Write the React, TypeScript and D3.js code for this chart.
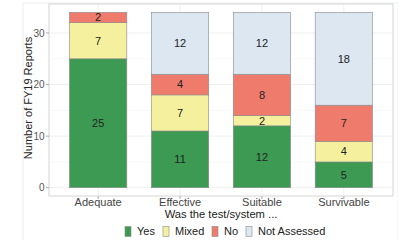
import React from 'react';
import * as d3 from 'd3';

const categories = ['Adequate', 'Effective', 'Suitable', 'Survivable'];
const seriesNames = ['Yes', 'Mixed', 'No', 'Not Assessed'];
const yesValues = [25, 11, 12, 5];
const mixedValues = [7, 7, 2, 4];
const noValues = [2, 4, 8, 7];
const notAssessedValues = [0, 12, 12, 18];
const yTicks = [0, 10, 20, 30];
const colors = ['#3c9a52', '#f4f09e', '#ef7b6c', '#dce7f2'];

const W = 398;
const H = 240;
const panel = { left: 49, right: 393, top: 4, bottom: 196 };

function App() {
  const rows = categories.map((c, i) => ({
    cat: c,
    Yes: yesValues[i],
    Mixed: mixedValues[i],
    No: noValues[i],
    'Not Assessed': notAssessedValues[i],
  }));
  const stack = d3.stack<any>().keys(seriesNames)(rows);

  const x = d3.scalePoint().domain(categories).range([panel.left, panel.right]).padding(0.6);
  const barW = x.step() * 0.7;
  const y = d3.scaleLinear().domain([0, 30]).range([187.7, 33]);

  const font = 'Liberation Sans, Arial, sans-serif';
  const minor = [5, 15, 25];

  // legend key positions
  const legendItems = [
    { name: 'Yes', x: 125 },
    { name: 'Mixed', x: 163 },
    { name: 'No', x: 212 },
    { name: 'Not Assessed', x: 246 },
  ];

  return (
    <svg width={W} height={H} style={{ position: 'absolute', left: 0, top: 0 }} fontFamily={font}>
      <rect x={0} y={0} width={W} height={H} fill="#fff" />
      <rect x={23} y={3} width={W - 23} height={H} fill="none" stroke="#eceef0" />
      <rect x={panel.left} y={panel.top} width={panel.right - panel.left} height={panel.bottom - panel.top}
        fill="#fff" stroke="#d4d4d4" />
      {minor.map(t => (
        <line key={'m' + t} x1={panel.left} x2={panel.right} y1={y(t)} y2={y(t)} stroke="#f3f3f3" strokeWidth={0.6} />
      ))}
      {yTicks.map(t => (
        <line key={'g' + t} x1={panel.left} x2={panel.right} y1={y(t)} y2={y(t)} stroke="#ebebeb" strokeWidth={0.8} />
      ))}
      {categories.map(c => (
        <line key={'v' + c} x1={x(c)} x2={x(c)} y1={panel.top} y2={panel.bottom} stroke="#ebebeb" strokeWidth={0.8} />
      ))}
      {stack.map((s, si) => (
        <g key={s.key}>
          {s.map((d, i) => {
            const v = d[1] - d[0];
            if (v <= 0) return null;
            const cx = x(categories[i])!;
            return (
              <g key={i}>
                <rect x={cx - barW / 2} y={y(d[1])} width={barW} height={y(d[0]) - y(d[1])}
                  fill={colors[si]} stroke="#8a8a8a" strokeWidth={0.6} />
                <text x={cx} y={(y(d[0]) + y(d[1])) / 2} dy="0.35em" textAnchor="middle"
                  fontSize={11} fill="#222">{v}</text>
              </g>
            );
          })}
        </g>
      ))}
      {yTicks.map(t => (
        <g key={'yt' + t}>
          <line x1={panel.left - 3} x2={panel.left} y1={y(t)} y2={y(t)} stroke="#aaa" />
          <text x={panel.left - 4.5} y={y(t)} dy="0.35em" textAnchor="end" fontSize={10} fill="#555">{t}</text>
        </g>
      ))}
      {categories.map(c => (
        <g key={'xt' + c}>
          <line x1={x(c)} x2={x(c)} y1={panel.bottom} y2={panel.bottom + 3} stroke="#aaa" />
          <text x={x(c)} y={202} dy="0.35em" textAnchor="middle" fontSize={11} fill="#444">{c}</text>
        </g>
      ))}
      <text x={221} y={214.5} dy="0.35em" textAnchor="middle" fontSize={11.2} fill="#222">Was the test/system ...</text>
      <text transform={`translate(28,98) rotate(-90)`} dy="0.35em"
        textAnchor="middle" fontSize={11} fill="#222">Number of FY19 Reports</text>
      {legendItems.map(l => {
        const i = seriesNames.indexOf(l.name);
        return (
          <g key={l.name}>
            <rect x={l.x} y={226.5} width={6} height={10} fill={colors[i]} stroke="#8a8a8a" strokeWidth={0.6} />
            <text x={l.x + 12} y={231.5} dy="0.35em" fontSize={11} fill="#222">{l.name}</text>
          </g>
        );
      })}
    </svg>
  );
}

export default App;
